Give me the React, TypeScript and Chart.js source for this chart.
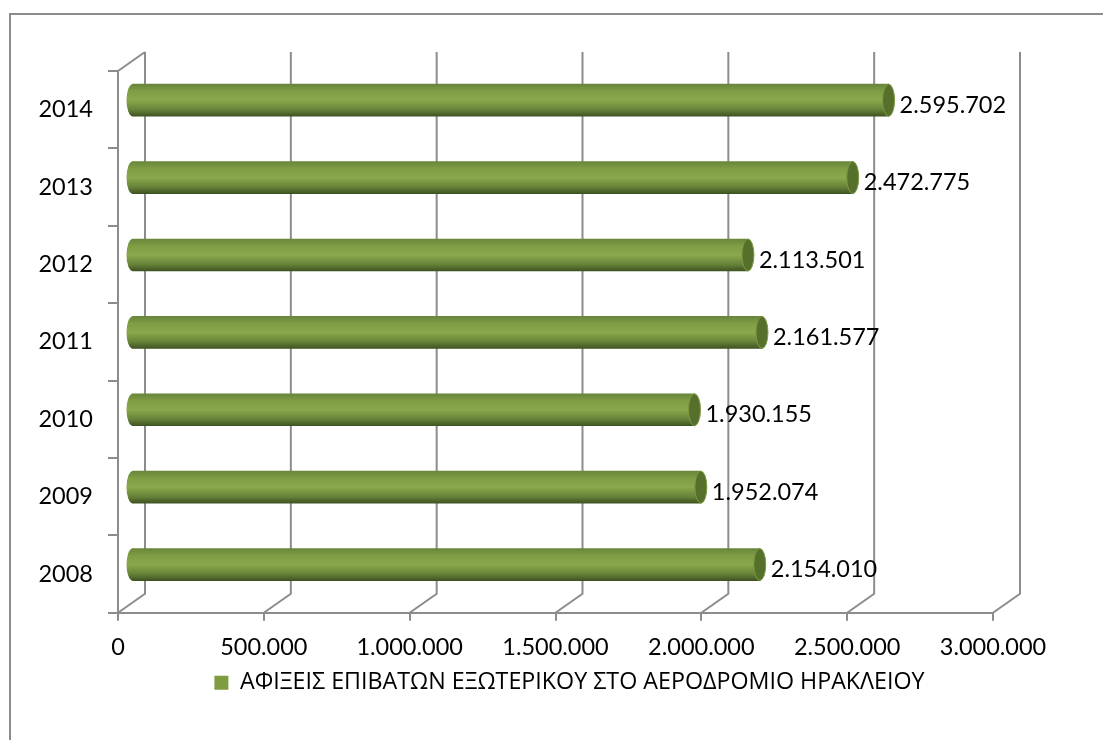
import React, { useEffect, useRef } from "react";
import { Chart, registerables } from "chart.js";

Chart.register(...registerables);

const years = ["2008", "2009", "2010", "2011", "2012", "2013", "2014"];
const arrivals = [2154010, 1952074, 1930155, 2161577, 2113501, 2472775, 2595702];
const seriesName = "ΑΦΙΞΕΙΣ ΕΠΙΒΑΤΩΝ ΕΞΩΤΕΡΙΚΟΥ ΣΤΟ ΑΕΡΟΔΡΟΜΙΟ ΗΡΑΚΛΕΙΟΥ";
const xMax = 3000000;
const xStep = 500000;

const FONT = "Lato, 'Open Sans', sans-serif";
const LEGEND_FONT = "'Open Sans', sans-serif";
const GREY = "#8c8c8c";
const DEPTH_X = 27;
const DEPTH_Y = 19;
const CAP = 6;

const fmt = (v: number) => String(Math.round(v)).replace(/\B(?=(\d{3})+(?!\d))/g, ".");

const barGradient = (ctx: CanvasRenderingContext2D, top: number, bottom: number) => {
  const g = ctx.createLinearGradient(0, top, 0, bottom);
  g.addColorStop(0, "#68863a");
  g.addColorStop(0.22, "#7f9d44");
  g.addColorStop(0.5, "#8aa84c");
  g.addColorStop(0.8, "#668238");
  g.addColorStop(1, "#3f5322");
  return g;
};

const backdrop = {
  id: "backdrop",
  beforeDraw(chart: any) {
    const { ctx, scales, chartArea } = chart;
    ctx.save();
    ctx.fillStyle = "#ffffff";
    ctx.fillRect(0, 0, chart.width, chart.height);
    ctx.strokeStyle = GREY;
    ctx.lineWidth = 2;
    ctx.strokeRect(10, 14, chart.width + 20, chart.height + 20);
    for (let v = 0; v <= xMax; v += xStep) {
      const x = scales.x.getPixelForValue(v);
      ctx.beginPath();
      ctx.moveTo(x, chartArea.bottom);
      ctx.lineTo(x + DEPTH_X, chartArea.bottom - DEPTH_Y);
      ctx.lineTo(x + DEPTH_X, chartArea.top - DEPTH_Y);
      ctx.stroke();
    }
    ctx.beginPath();
    ctx.moveTo(chartArea.left, chartArea.top);
    ctx.lineTo(chartArea.left + DEPTH_X, chartArea.top - DEPTH_Y);
    ctx.stroke();
    ctx.restore();
  },
  afterLayout(chart: any) {
    const l = chart.legend;
    const h = l.height;
    l.top = 661;
    l.bottom = 661 + h;
    l.left += 73;
    l.right += 73;
  },
  beforeDatasetDraw(chart: any) {
    chart.ctx.save();
    chart.ctx.translate(DEPTH_X / 2, -DEPTH_Y / 2);
  },
  afterDatasetDraw(chart: any, args: any) {
    const { ctx } = chart;
    const meta = chart.getDatasetMeta(args.index);
    meta.data.forEach((bar: any) => {
      const half = bar.height / 2;
      ctx.fillStyle = barGradient(ctx, bar.y - half, bar.y + half);
      ctx.beginPath();
      ctx.ellipse(bar.base, bar.y, CAP, half, 0, 0, Math.PI * 2);
      ctx.fill();
      ctx.fillStyle = "#56702c";
      ctx.strokeStyle = "#7c9a42";
      ctx.lineWidth = 1;
      ctx.beginPath();
      ctx.ellipse(bar.x, bar.y, CAP, half, 0, 0, Math.PI * 2);
      ctx.fill();
      ctx.stroke();
    });
    ctx.restore();
    ctx.save();
    ctx.font = `23.5px ${FONT}`;
    ctx.fillStyle = "#000000";
    ctx.textBaseline = "middle";
    meta.data.forEach((bar: any, i: number) => {
      ctx.fillText(fmt(arrivals[i]), bar.x + DEPTH_X / 2 + 11, bar.y - DEPTH_Y / 2 + 5);
    });
    ctx.restore();
  },
};

export default function App() {
  const ref = useRef<HTMLCanvasElement>(null);
  useEffect(() => {
    const chart = new Chart(ref.current!, {
      type: "bar",
      data: {
        labels: years,
        datasets: [
          {
            label: seriesName,
            data: arrivals,
            barThickness: 32,
            backgroundColor: (c: any) => {
              const scale = c.chart.scales?.y;
              const y = scale ? scale.getPixelForValue(c.dataIndex) : NaN;
              if (!Number.isFinite(y)) return "#7f9f3f";
              return barGradient(c.chart.ctx, y - 16, y + 16);
            },
          },
        ],
      },
      plugins: [backdrop],
      options: {
        indexAxis: "y",
        animation: false,
        responsive: false,
        events: [],
        layout: { padding: { left: 0, right: 110, top: 71, bottom: 37 } },
        plugins: {
          tooltip: { enabled: false },
          title: { display: false },
          legend: {
            position: "bottom",
            labels: {
              boxWidth: 14,
              boxHeight: 14,
              padding: 10,
              color: "#000000",
              font: { family: LEGEND_FONT, size: 23.25 },
              generateLabels: () => [
                { text: seriesName, fillStyle: "#809c40", strokeStyle: "#809c40", lineWidth: 0 },
              ],
            },
          },
        },
        scales: {
          x: {
            min: 0,
            max: xMax,
            afterFit: (s: any) => { s.height = 47; },
            ticks: {
              stepSize: xStep,
              padding: 13,
              color: "#000000",
              font: { family: FONT, size: 23.5 },
              maxRotation: 0,
              callback: (v: any) => fmt(Number(v)),
            },
            grid: { drawOnChartArea: false, color: GREY, lineWidth: 2, tickLength: 8 },
            border: { color: GREY, width: 2 },
          },
          y: {
            reverse: true,
            afterFit: (s: any) => { s.width = 118; },
            ticks: {
              padding: 15,
              color: "#000000",
              font: { family: FONT, size: 23.5 },
            },
            grid: { drawOnChartArea: false, color: GREY, lineWidth: 2, tickLength: 10, offset: true },
            border: { color: GREY, width: 2 },
          },
        },
      },
    } as any);
    return () => chart.destroy();
  }, []);
  return (
    <div style={{ position: "fixed", left: 0, top: 0, width: 1103, height: 740 }}>
      <canvas ref={ref} width={1103} height={740} style={{ display: "block" }} />
    </div>
  );
}
